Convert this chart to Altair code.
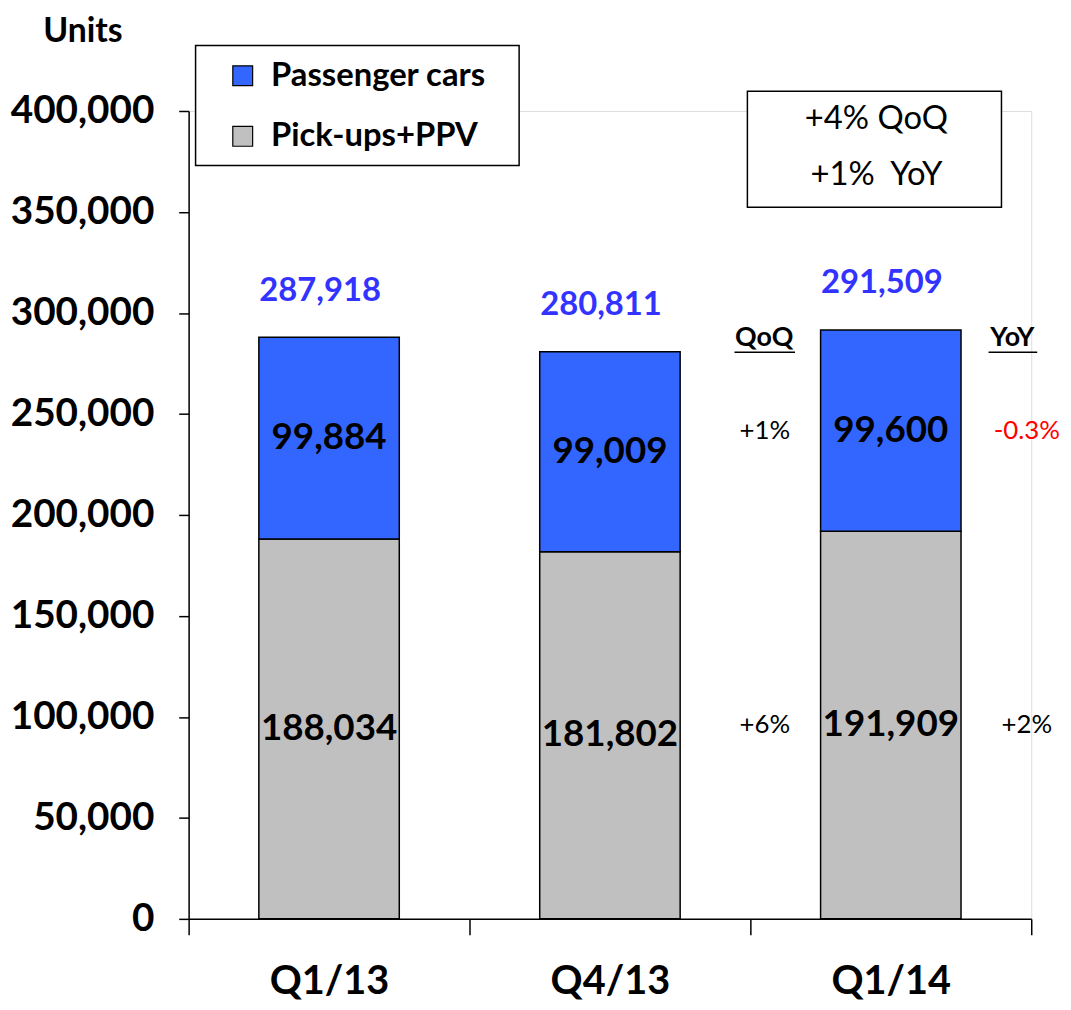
import altair as alt
import pandas as pd

# ---- data ----
quarters = ["Q1/13", "Q4/13", "Q1/14"]
segments = ["Passenger cars", "Pick-ups+PPV"]
passenger = [99884, 99009, 99600]
pickups = [188034, 181802, 191909]
y_ticks = [0, 50000, 100000, 150000, 200000, 250000, 300000, 350000, 400000]

ann_quarter = "Q1/14"
qoq_labels = ["+1%", "+6%"]      # passenger cars, pick-ups
yoy_labels = ["-0.3%", "+2%"]
summary_lines = ["+4% QoQ", "+1%\u00a0 YoY"]
headers = ["QoQ", "YoY"]

FONT = "Lato"
BLUE = "#3366FF"
GREY = "#C0C0C0"

rows = []
for q, p, k in zip(quarters, passenger, pickups):
    rows.append({"quarter": q, "segment": "Pick-ups+PPV", "units": k, "mid": k / 2})
    rows.append({"quarter": q, "segment": "Passenger cars", "units": p, "mid": k + p / 2})
df = pd.DataFrame(rows)
totals = pd.DataFrame({"quarter": quarters, "total": [p + k for p, k in zip(passenger, pickups)]})

ann = df[df["quarter"] == ann_quarter].copy()
ann["qoq"] = ann["segment"].map({"Passenger cars": qoq_labels[0], "Pick-ups+PPV": qoq_labels[1]})
ann["yoy"] = ann["segment"].map({"Passenger cars": yoy_labels[0], "Pick-ups+PPV": yoy_labels[1]})

x_enc = alt.X(
    "quarter:N",
    sort=quarters,
    scale=alt.Scale(paddingInner=0, paddingOuter=0),
    axis=alt.Axis(
        title=None, labelAngle=0, labelFont=FONT, labelFontSize=40, labelFontWeight="bold",
        labelColor="black", labelPadding=27, tickBand="extent", tickSize=16, grid=False,
        tickColor="black", domainColor="black", tickWidth=1.5, domainWidth=1.5,
    ),
)
y_scale = alt.Scale(domain=[0, 400000], nice=False)

legend_box = alt.Chart(pd.DataFrame({"k": [0]})).mark_rect(
    fill="white", stroke="black", strokeWidth=1.5
).encode(x=alt.value(7), x2=alt.value(333), y=alt.value(-66), y2=alt.value(55))

bars = alt.Chart(df).mark_bar(
    stroke="black", strokeWidth=1.5, width=alt.RelativeBandSize(0.5)
).encode(
    x=x_enc,
    y=alt.Y(
        "sum(units):Q",
        scale=y_scale,
        axis=alt.Axis(
            values=y_ticks, format=",d", grid=False, labelFont=FONT, labelFontSize=39,
            labelFontWeight="bold", labelColor="black", labelPadding=25, tickSize=10,
            tickColor="black", domainColor="black", tickWidth=1.5, domainWidth=1.5,
            title="Units", titleAngle=0, titleFont=FONT, titleFontSize=34, titleFontWeight="bold",
            titleAlign="center", titleBaseline="middle", titleX=-107, titleY=-80, titleColor="black",
        ),
    ),
    color=alt.Color(
        "segment:N",
        scale=alt.Scale(domain=segments, range=[BLUE, GREY]),
        legend=alt.Legend(
            title=None, orient="none", legendX=38, legendY=-52, symbolType="square",
            symbolSize=400, symbolStrokeColor="black", symbolStrokeWidth=1.2,
            labelFont=FONT, labelFontSize=33, labelFontWeight="bold", labelColor="black",
            labelOffset=12, rowPadding=27, padding=0, labelLimit=400,
        ),
    ),
    order=alt.Order("segment:N", sort="descending"),
)

seg_labels = alt.Chart(df).mark_text(
    font=FONT, fontSize=37, fontWeight="bold", color="black", baseline="middle"
).encode(x=alt.X("quarter:N", sort=quarters), y=alt.Y("mid:Q", scale=y_scale), text=alt.Text("units:Q", format=",d"))

total_labels = alt.Chart(totals).mark_text(
    font=FONT, fontSize=33, fontWeight="bold", color="#3333FF", baseline="middle", dy=-47, dx=-9
).encode(x=alt.X("quarter:N", sort=quarters), y=alt.Y("total:Q", scale=y_scale), text=alt.Text("total:Q", format=",d"))

qoq = alt.Chart(ann).mark_text(
    font=FONT, fontSize=26, color="black", baseline="middle", dx=-127
).encode(x=alt.X("quarter:N", sort=quarters), y=alt.Y("mid:Q", scale=y_scale), text="qoq:N")

yoy = alt.Chart(ann).mark_text(
    font=FONT, fontSize=26, baseline="middle", dx=137
).encode(
    x=alt.X("quarter:N", sort=quarters), y=alt.Y("mid:Q", scale=y_scale), text="yoy:N",
    color=alt.condition(alt.datum.yoy == yoy_labels[0], alt.value("#FF0000"), alt.value("black")),
)

hdr_qoq = alt.Chart(pd.DataFrame({"t": [headers[0]]})).mark_text(
    font=FONT, fontSize=27, fontWeight="bold", color="black", baseline="middle"
).encode(x=alt.value(580), y=alt.value(229), text="t:N")
hdr_yoy = alt.Chart(pd.DataFrame({"t": [headers[1]]})).mark_text(
    font=FONT, fontSize=27, fontWeight="bold", color="black", baseline="middle"
).encode(x=alt.value(830), y=alt.value(229), text="t:N")
ul_qoq = alt.Chart(pd.DataFrame({"k": [0]})).mark_rule(color="black", strokeWidth=1.5).encode(
    x=alt.value(550), x2=alt.value(611), y=alt.value(243))
ul_yoy = alt.Chart(pd.DataFrame({"k": [0]})).mark_rule(color="black", strokeWidth=1.5).encode(
    x=alt.value(806), x2=alt.value(855), y=alt.value(243))

sum_box = alt.Chart(pd.DataFrame({"k": [0]})).mark_rect(
    fill="white", stroke="black", strokeWidth=1.5
).encode(x=alt.value(563), x2=alt.value(819), y=alt.value(-20), y2=alt.value(97))
sum1 = alt.Chart(pd.DataFrame({"t": [summary_lines[0]]})).mark_text(
    font=FONT, fontSize=33, color="black", baseline="middle"
).encode(x=alt.value(693), y=alt.value(8), text="t:N")
sum2 = alt.Chart(pd.DataFrame({"t": [summary_lines[1]]})).mark_text(
    font=FONT, fontSize=33, color="black", baseline="middle"
).encode(x=alt.value(693), y=alt.value(65), text="t:N")

chart = alt.layer(
    legend_box, bars, seg_labels, total_labels, qoq, yoy,
    hdr_qoq, hdr_yoy, ul_qoq, ul_yoy, sum_box, sum1, sum2,
).properties(
    width=849, height=814,
    autosize=alt.AutoSizeParams(type="none"),
    padding={"left": 182, "top": 100, "right": 32, "bottom": 80},
).configure_view(strokeWidth=0).configure(background="white")

chart.save("out.html", embed_options={"renderer": "svg", "actions": False})
